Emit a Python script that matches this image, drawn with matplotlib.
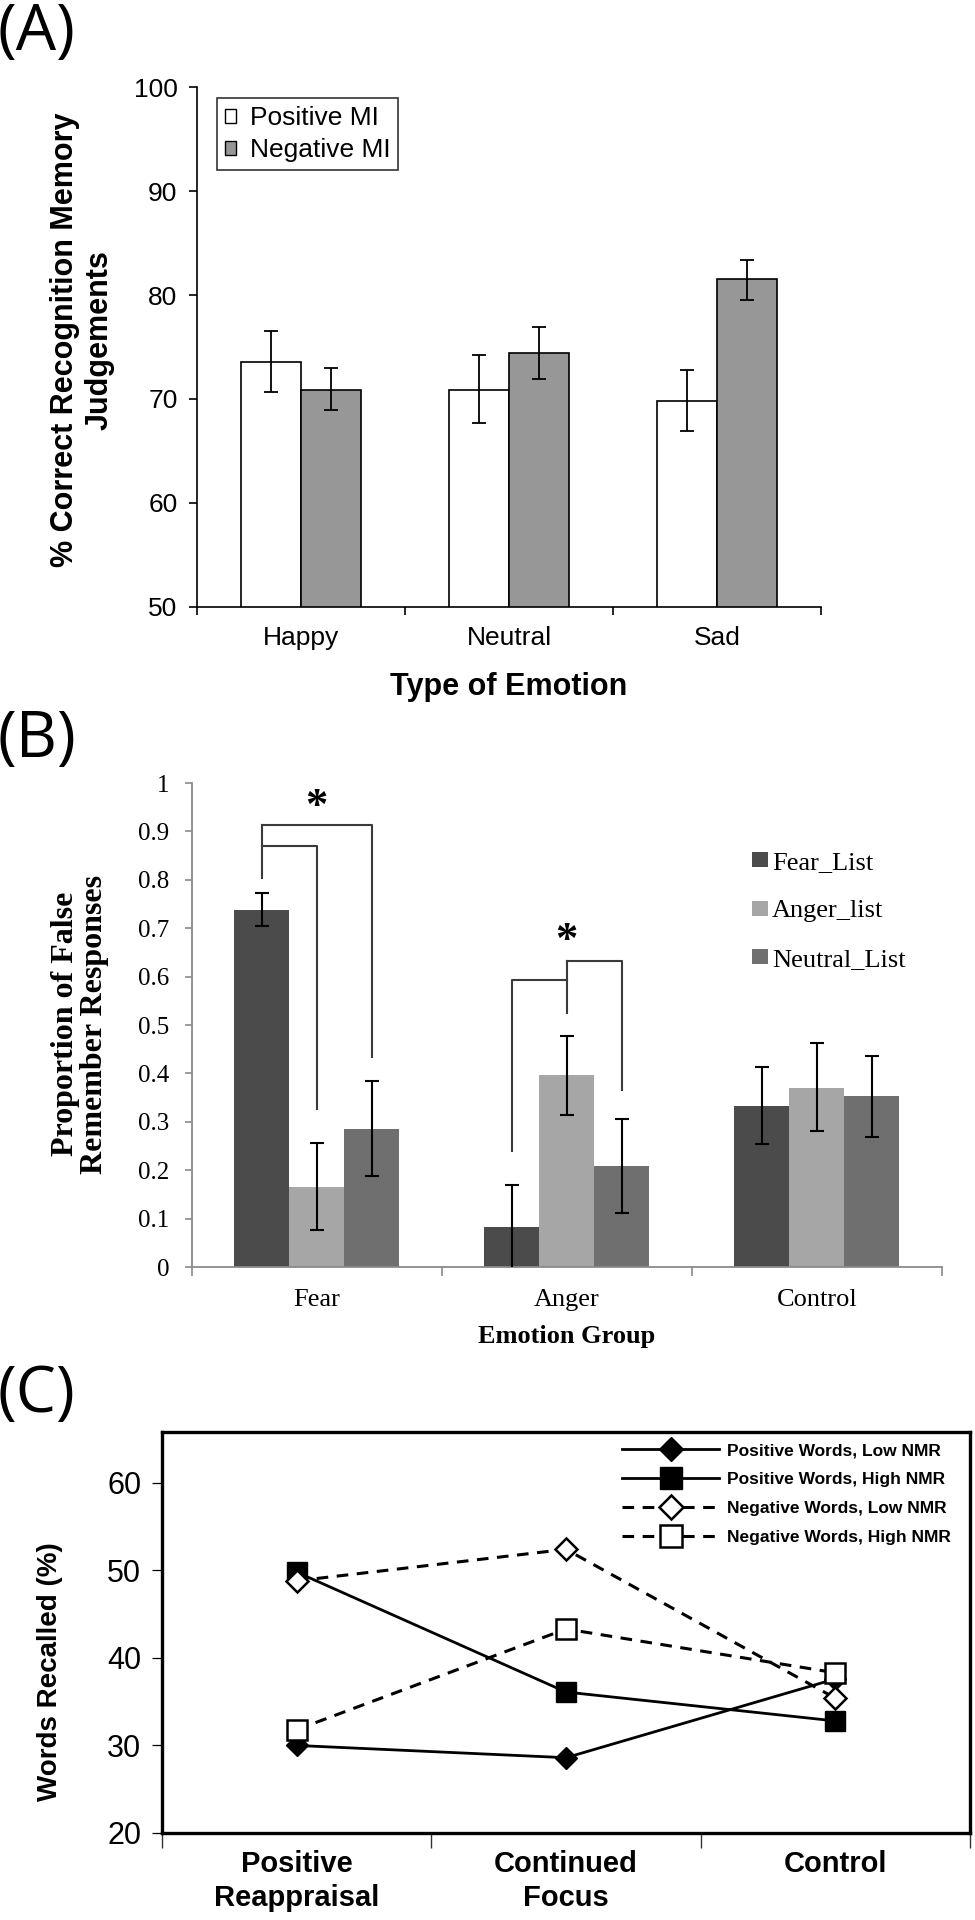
import matplotlib
matplotlib.use('Agg')
import matplotlib.pyplot as plt
from matplotlib import font_manager
from matplotlib.patches import Patch
from matplotlib.ticker import FixedLocator
import numpy as np

# ---------------- data ----------------
# Panel A
a_categories = ['Happy', 'Neutral', 'Sad']
a_series = ['Positive MI', 'Negative MI']
a_positive = [73.6, 70.9, 69.8]
a_positive_hi = [76.5, 74.2, 72.8]
a_positive_lo = [70.7, 67.7, 66.9]
a_negative = [70.9, 74.4, 81.5]
a_negative_hi = [73.0, 76.9, 83.4]
a_negative_lo = [68.9, 71.9, 79.5]
a_yticks = [50, 60, 70, 80, 90, 100]

# Panel B
b_groups = ['Fear', 'Anger', 'Control']
b_series = ['Fear_List', 'Anger_list', 'Neutral_List']
b_fear_list = [0.738, 0.083, 0.333]
b_fear_list_hi = [0.772, 0.170, 0.413]
b_fear_list_lo = [0.704, -0.005, 0.255]
b_anger_list = [0.166, 0.396, 0.370]
b_anger_list_hi = [0.256, 0.478, 0.462]
b_anger_list_lo = [0.076, 0.315, 0.280]
b_neutral_list = [0.286, 0.209, 0.353]
b_neutral_list_hi = [0.385, 0.305, 0.436]
b_neutral_list_lo = [0.187, 0.112, 0.268]
b_yticks = [0, 0.1, 0.2, 0.3, 0.4, 0.5, 0.6, 0.7, 0.8, 0.9, 1.0]
b_yticklabels = ['0', '0.1', '0.2', '0.3', '0.4', '0.5', '0.6', '0.7', '0.8', '0.9', '1']

# Panel C
c_conditions = ['Positive\nReappraisal', 'Continued\nFocus', 'Control']
c_series = ['Positive Words, Low NMR', 'Positive Words, High NMR',
            'Negative Words, Low NMR', 'Negative Words, High NMR']
c_pos_low = [30.0, 28.6, 37.6]
c_pos_high = [49.8, 36.1, 32.8]
c_neg_low = [48.8, 52.4, 35.4]
c_neg_high = [31.8, 43.3, 38.3]
c_yticks = [20, 30, 40, 50, 60]

# ---------------- fonts ----------------
def has_font(name):
    try:
        font_manager.findfont(font_manager.FontProperties(family=name), fallback_to_default=False)
        return True
    except Exception:
        return False

SANS = 'Liberation Sans'
SERIF = 'Liberation Serif'
PANEL = 'Open Sans' if has_font('Open Sans') else 'DejaVu Sans'
plt.rcParams['font.family'] = [SANS, 'DejaVu Sans']

W, H = 975, 1920
fig = plt.figure(figsize=(W / 100, H / 100), dpi=100)


def rect(l, t, r, b):
    return [l / W, 1 - b / H, (r - l) / W, (b - t) / H]


def fxy(x, y):
    return (x / W, 1 - y / H)


# panel letters
for lab, yc in [('(A)', 33), ('(B)', 740), ('(C)', 1395)]:
    fig.text(*fxy(-2, yc), lab, family=PANEL, fontsize=46, ha='left', va='center')

# ---------------- Panel A ----------------
axA = fig.add_axes(rect(197, 87, 821, 607))
xa = np.arange(len(a_categories))
wa = 0.29
pos = np.array(a_positive)
neg = np.array(a_negative)
axA.bar(xa - wa / 2, pos, wa, color='white', edgecolor='black', linewidth=1.2, zorder=2)
axA.bar(xa + wa / 2, neg, wa, color='#979797', edgecolor='black', linewidth=1.2, zorder=2)
axA.errorbar(xa - wa / 2, pos, yerr=[pos - np.array(a_positive_lo), np.array(a_positive_hi) - pos],
             fmt='none', ecolor='black', elinewidth=1.3, capsize=5, capthick=1.3, zorder=3)
axA.errorbar(xa + wa / 2, neg, yerr=[neg - np.array(a_negative_lo), np.array(a_negative_hi) - neg],
             fmt='none', ecolor='black', elinewidth=1.3, capsize=5, capthick=1.3, zorder=3)
axA.set_xlim(-0.5, 2.5)
axA.set_ylim(50, 100)
axA.set_yticks(a_yticks)
axA.set_xticks(xa)
axA.set_xticklabels(a_categories)
axA.xaxis.set_minor_locator(FixedLocator([-0.5, 0.5, 1.5, 2.5]))
axA.tick_params(axis='x', which='major', length=0, pad=14, labelsize=19)
axA.tick_params(axis='x', which='minor', length=6, width=1.2, direction='out')
axA.tick_params(axis='y', length=6, width=1.2, pad=8, labelsize=19)
for s in ['top', 'right']:
    axA.spines[s].set_visible(False)
for s in ['left', 'bottom']:
    axA.spines[s].set_linewidth(1.2)
leg_handles = [Patch(facecolor='white', edgecolor='black', linewidth=1.0),
               Patch(facecolor='#979797', edgecolor='black', linewidth=1.0)]
legA = axA.legend(leg_handles, a_series, loc='upper left',
                  bbox_to_anchor=fxy(216.7, 98.3), bbox_transform=fig.transFigure,
                  fontsize=19, frameon=True, fancybox=False, edgecolor='black',
                  borderaxespad=0, borderpad=0.3, handlelength=0.45, handleheight=0.45,
                  handletextpad=0.5, labelspacing=0.3)
legA.get_frame().set_linewidth(1.2)
fig.text(*fxy(509, 687), 'Type of Emotion', fontsize=22, fontweight='bold', ha='center', va='center')
fig.text(*fxy(82, 340), '% Correct Recognition Memory\nJudgements', fontsize=22,
         fontweight='bold', ha='center', va='center', rotation=90, linespacing=1.2,
         multialignment='center')

# ---------------- Panel B ----------------
axB = fig.add_axes(rect(191.5, 783, 942, 1267))
xb = np.arange(len(b_groups))
wb = 0.22
b_colors = ['#4b4b4b', '#a6a6a6', '#6f6f6f']
b_vals = [b_fear_list, b_anger_list, b_neutral_list]
b_his = [b_fear_list_hi, b_anger_list_hi, b_neutral_list_hi]
b_los = [b_fear_list_lo, b_anger_list_lo, b_neutral_list_lo]
for i, (v, hi, lo, c) in enumerate(zip(b_vals, b_his, b_los, b_colors)):
    v = np.array(v)
    xs = xb + (i - 1) * wb
    axB.bar(xs, v, wb, color=c, edgecolor='none', zorder=2, label=b_series[i])
    axB.errorbar(xs, v, yerr=[v - np.array(lo), np.array(hi) - v], fmt='none',
                 ecolor='black', elinewidth=1.5, capsize=5, capthick=1.5, zorder=3)

# significance brackets
bc = '#3a3a3a'
blw = 1.5
xf, xa_, xn = -wb, 0.0, wb
axB.plot([xf, xf], [0.804, 0.913], color=bc, lw=blw)
axB.plot([xf, xa_, xa_], [0.869, 0.869, 0.326], color=bc, lw=blw)
axB.plot([xf, xn, xn], [0.913, 0.913, 0.434], color=bc, lw=blw)
axB.text(xa_, 0.95, '*', family=SERIF, fontsize=32, fontweight='bold', ha='center', va='center')
g = 1
axB.plot([g - wb, g - wb, g], [0.240, 0.593, 0.593], color=bc, lw=blw)
axB.plot([g, g], [0.525, 0.632], color=bc, lw=blw)
axB.plot([g, g + wb, g + wb], [0.632, 0.632, 0.365], color=bc, lw=blw)
axB.text(g, 0.674, '*', family=SERIF, fontsize=32, fontweight='bold', ha='center', va='center')

axB.set_xlim(-0.5, 2.5)
axB.set_ylim(0, 1)
axB.set_yticks(b_yticks)
axB.set_yticklabels(b_yticklabels, family=SERIF, fontsize=18)
axB.set_xticks(xb)
axB.set_xticklabels(b_groups, family=SERIF, fontsize=19)
axB.xaxis.set_minor_locator(FixedLocator([-0.5, 0.5, 1.5, 2.5]))
axB.tick_params(axis='x', which='major', length=0, pad=16)
axB.tick_params(axis='x', which='minor', length=6.5, width=1.2, color='#8a8a8a')
axB.tick_params(axis='y', length=5, width=1.2, color='#8a8a8a', pad=11)
for s in ['top', 'right']:
    axB.spines[s].set_visible(False)
for s in ['left', 'bottom']:
    axB.spines[s].set_color('#8a8a8a')
    axB.spines[s].set_linewidth(1.3)
axB.legend(loc='upper left', bbox_to_anchor=fxy(752, 852), bbox_transform=fig.transFigure,
           prop={'family': SERIF, 'size': 19}, frameon=False, borderaxespad=0, borderpad=0,
           handlelength=0.6, handleheight=0.5, handletextpad=0.15, labelspacing=1.0)
fig.text(*fxy(567, 1337), 'Emotion Group', family=SERIF, fontsize=19, fontweight='bold',
         ha='center', va='center')
fig.text(*fxy(80, 1024), 'Proportion of False\nRemember Responses', family=SERIF, fontsize=23,
         fontweight='bold', ha='center', va='center', rotation=90, linespacing=1.0,
         multialignment='center')

# ---------------- Panel C ----------------
axC = fig.add_axes(rect(162, 1432, 970, 1833))
xc = np.arange(len(c_conditions))
dash = (0, (3.8, 2.8))
axC.plot(xc, c_pos_low, color='black', lw=2.0, marker='D', ms=11, mfc='black', mec='black',
         label=c_series[0], zorder=3)
axC.plot(xc, c_pos_high, color='black', lw=2.0, marker='s', ms=14, mfc='black', mec='black',
         label=c_series[1], zorder=3)
axC.plot(xc, c_neg_low, color='black', lw=2.2, ls=dash, marker='D', ms=11, mfc='white',
         mec='black', mew=1.8, label=c_series[2], zorder=4)
axC.plot(xc, c_neg_high, color='black', lw=2.2, ls=dash, marker='s', ms=14, mfc='white',
         mec='black', mew=1.8, label=c_series[3], zorder=4)
axC.set_xlim(-0.5, 2.5)
axC.set_ylim(20, 65.8)
axC.set_yticks(c_yticks)
axC.set_yticklabels([str(v) for v in c_yticks], fontsize=22)
axC.set_xticks(xc)
axC.set_xticklabels(c_conditions, fontweight='bold', fontsize=21, linespacing=1.3)
axC.xaxis.set_minor_locator(FixedLocator([-0.5, 0.5, 1.5, 2.5]))
axC.tick_params(axis='x', which='major', length=0, pad=12)
axC.tick_params(axis='x', which='minor', length=11, width=1.0, color='#333333')
axC.tick_params(axis='y', length=7, width=0.9, pad=8)
for s in axC.spines.values():
    s.set_linewidth(2.4)
axC.legend(loc='upper left', bbox_to_anchor=fxy(622, 1443), bbox_transform=fig.transFigure,
           prop={'weight': 'bold', 'size': 12.5},
           frameon=False, borderaxespad=0, borderpad=0, handlelength=5.6,
           handletextpad=0.45, labelspacing=0.8, markerscale=1.15)
fig.text(*fxy(50, 1672), 'Words Recalled (%)', fontweight='bold',
         fontsize=20, ha='center', va='center', rotation=90)

fig.savefig('out.png', dpi=100)
